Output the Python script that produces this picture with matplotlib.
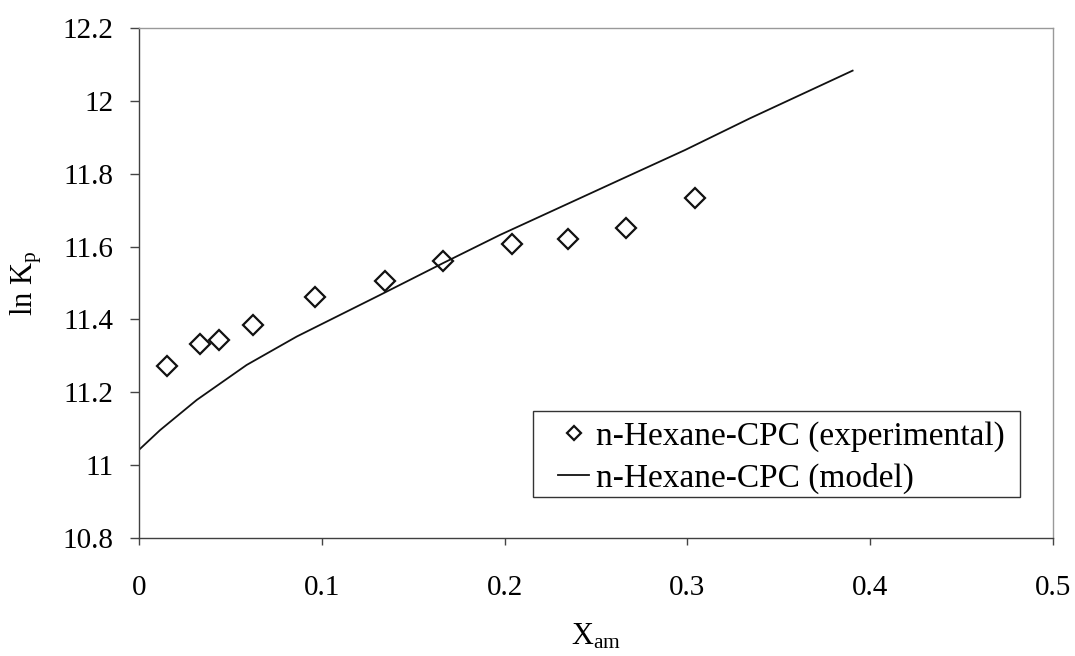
import matplotlib
matplotlib.use("Agg")
import matplotlib.pyplot as plt
from matplotlib.patches import Rectangle

plt.rcParams['font.family'] = ['Liberation Serif', 'DejaVu Serif']
plt.rcParams['mathtext.fontset'] = 'custom'
plt.rcParams['mathtext.rm'] = 'Liberation Serif'
plt.rcParams['mathtext.it'] = 'Liberation Serif:italic'

# ---- Daten ----
exp_x = [0.0155, 0.0334, 0.0438, 0.0622, 0.0961, 0.1344, 0.1665, 0.2040, 0.2349, 0.2664, 0.3040]
exp_y = [11.272, 11.333, 11.344, 11.384, 11.462, 11.506, 11.561, 11.606, 11.620, 11.652, 11.732]

model_x = [0, 0.0115, 0.0316, 0.0589, 0.0863, 0.1318, 0.1665, 0.1975, 0.263, 0.2987, 0.3342, 0.3904]
model_y = [11.042, 11.096, 11.179, 11.275, 11.353, 11.467, 11.555, 11.632, 11.783, 11.865, 11.952, 12.083]

x_ticks = [0, 0.1, 0.2, 0.3, 0.4, 0.5]
x_ticklabels = ["0", "0.1", "0.2", "0.3", "0.4", "0.5"]
y_ticks = [10.8, 11, 11.2, 11.4, 11.6, 11.8, 12, 12.2]
y_ticklabels = ["10.8", "11", "11.2", "11.4", "11.6", "11.8", "12", "12.2"]

# ---- Plot ----
fig = plt.figure(figsize=(10.75, 6.56), dpi=100)
ax = fig.add_axes([0.1293, 0.1799, 0.8502, 0.7774])

ax.plot(exp_x, exp_y, linestyle='none', marker='D', markersize=10,
        markerfacecolor='white', markeredgecolor='#111111', markeredgewidth=1.6,
        label='n-Hexane-CPC (experimental)')
ax.plot(model_x, model_y, color='#111111', linewidth=1.3,
        label='n-Hexane-CPC (model)')

ax.set_xlim(0, 0.5)
ax.set_ylim(10.8, 12.2)
ax.set_xticks(x_ticks)
ax.set_xticklabels(x_ticklabels)
ax.set_yticks(y_ticks)
ax.set_yticklabels(y_ticklabels)

ax.tick_params(axis='y', direction='out', length=6.5, width=1, pad=12, labelsize=21, color='#444444')
ax.tick_params(axis='x', direction='out', length=5, width=1, pad=22, labelsize=21, color='#444444')

for side in ['left', 'bottom']:
    ax.spines[side].set_color('#404040')
    ax.spines[side].set_linewidth(1.0)
for side in ['top', 'right']:
    ax.spines[side].set_color('#999999')
    ax.spines[side].set_linewidth(1.0)

ax.set_xlabel(r'X$_{\mathrm{am}}$', fontsize=22)
ax.set_ylabel(r'ln K$_{\mathrm{p}}$', fontsize=22)
ax.xaxis.set_label_coords(0.5, -0.165)
ax.yaxis.set_label_coords(-0.104, 0.5)

# Legende ohne eigenen Rahmen, Rahmen separat (Excel-Stil, asymmetrischer Rand)
leg = ax.legend(loc='lower right', bbox_to_anchor=(0.9475, 0.087), borderaxespad=0,
                fontsize=24, frameon=False, markerscale=0.75, handlelength=0.94,
                handletextpad=0.21, labelspacing=0.3, borderpad=0)
ax.add_patch(Rectangle((0.4311, 0.0804), 0.5328, 0.1686, transform=ax.transAxes,
                       facecolor='none', edgecolor='#333333', linewidth=1.0, zorder=4))

plt.savefig("out.png", dpi=100)
